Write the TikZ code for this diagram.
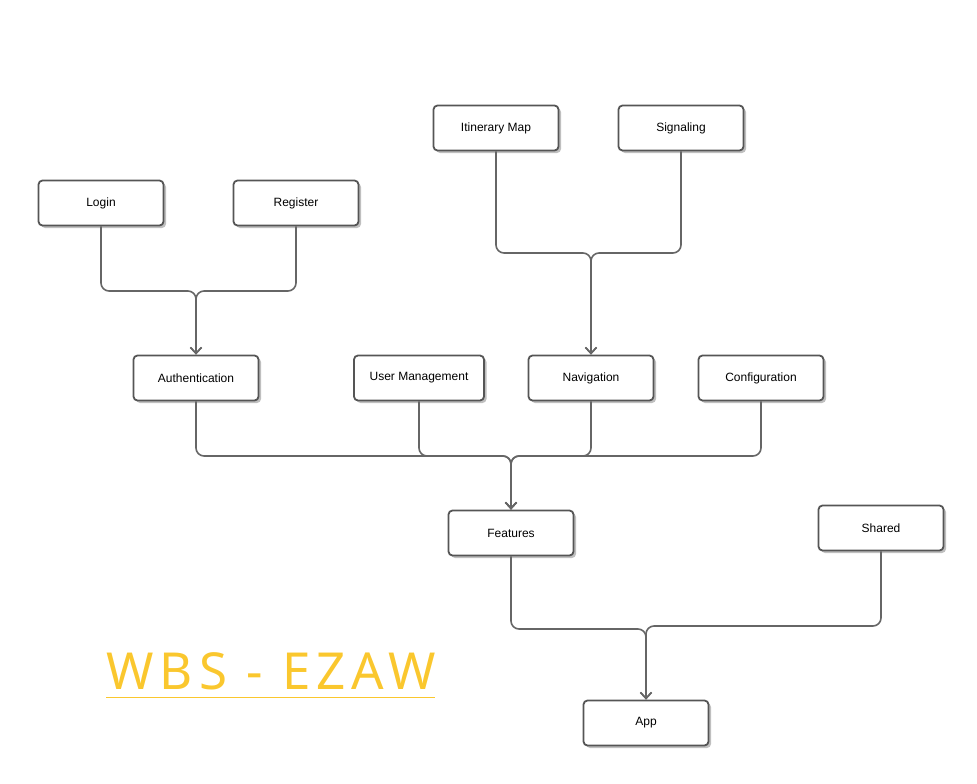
\documentclass[tikz,border=0pt]{standalone}
\usepackage{fontspec}
\setmainfont{Liberation Sans}
\newfontfamily\titrefont[LetterSpace=12]{Noto Sans}
\usetikzlibrary{arrows.meta,shadows}
\definecolor{trait}{HTML}{666666}
\definecolor{bord}{HTML}{555555}
\definecolor{jaune}{HTML}{FAC72E}

\begin{document}
\begin{tikzpicture}[x=1pt, y=-1pt]
\tikzset{boite/.style={draw=bord, line width=1.8pt, rounded corners=4pt, fill=white,
  minimum width=125pt, minimum height=45pt, inner sep=0pt,
  font=\fontsize{12}{14}\selectfont,
  drop shadow={shadow xshift=2.5pt, shadow yshift=-2.5pt, opacity=0.25, fill=black}}}
\tikzset{lien/.style={draw=trait, line width=1.6pt, rounded corners=8pt,
  -{Straight Barb[length=6pt, width=11pt, line width=1.6pt]}}}
\useasboundingbox (0,0) rectangle (977,784);
\node[boite] (Login) at (101,203) {Login};
\node[boite] (Register) at (296,203) {Register};
\node[boite] (Itineraire) at (496,128) {Itinerary Map};
\node[boite] (Signal) at (681,128) {Signaling};
\node[boite] (Auth) at (196,378) {Authentication};
\node[boite, minimum width=130pt] (Users) at (419,378) {User Management};
\node[boite] (Navig) at (591,378) {Navigation};
\node[boite] (Config) at (761,378) {Configuration};
\node[boite] (Features) at (511,533) {Features};
\node[boite] (Shared) at (881,528) {Shared};
\node[boite] (App) at (646,723) {App};
\coordinate (J1) at (196,291);
\coordinate (J2) at (591,253);
\coordinate (J3) at (511,456);
\coordinate (J4) at (646,629);
\coordinate (J5) at (646,626);
\draw[lien] (Login.south) |- (J1) -- (Auth.north);
\draw[lien] (Register.south) |- (J1) -- (Auth.north);
\draw[lien] (Itineraire.south) |- (J2) -- (Navig.north);
\draw[lien] (Signal.south) |- (J2) -- (Navig.north);
\draw[lien] (Auth.south) |- (J3) -- (Features.north);
\draw[lien] (Users.south) |- (J3) -- (Features.north);
\draw[lien] (Navig.south) |- (J3) -- (Features.north);
\draw[lien] (Config.south) |- (J3) -- (Features.north);
\draw[lien] (Features.south) |- (J4) -- (App.north);
\draw[lien] (Shared.south) |- (J5) -- (App.north);
% titre
\node[text=jaune, font=\titrefont\fontsize{51}{54}\selectfont, anchor=south west, inner sep=0pt] (Titre) at (106,690) {WBS - EZAW};
\draw[jaune, line width=0.8pt] (106,697) -- (435,697);
\end{tikzpicture}
\end{document}
